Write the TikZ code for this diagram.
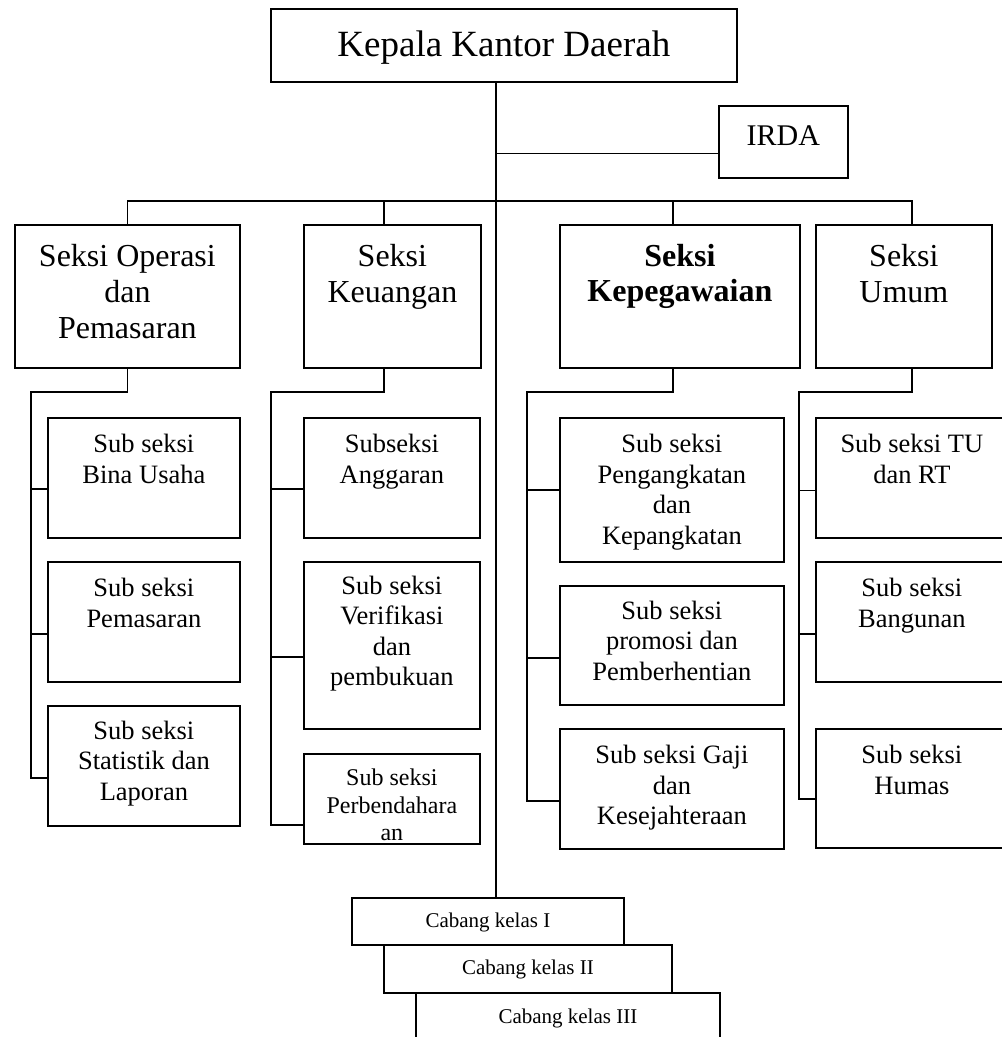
\documentclass[tikz,border=0pt]{standalone}
\usepackage{fontspec}
\setmainfont{Liberation Serif}
% box contents: width, height, space above the first line, text
\newcommand{\isi}[4]{\parbox[t][#2][t]{#1}{\centering\vspace*{#3}\strut #4}}

\begin{document}
\begin{tikzpicture}[x=1pt,y=-1pt,
	kotak/.style={draw, line width=1.8pt, inner sep=0pt, anchor=north west},
	judul/.style={kotak, font=\fontsize{37}{42}\selectfont},
	seksi/.style={kotak, font=\fontsize{32}{36}\selectfont},
	subseksi/.style={kotak, font=\fontsize{26.5}{30.5}\selectfont},
	cabang/.style={kotak, font=\fontsize{21}{24}\selectfont},
	garis/.style={line width=1.8pt}]
				\useasboundingbox (0,0) rectangle (1002,1037);
				\fill[white] (0,0) rectangle (1002,1037);
				\clip (0,0) rectangle (1002,1037);
				
				\node[judul] (kepala) at (270,8) {\isi{466pt}{73pt}{18.6pt}{Kepala Kantor Daerah}};
				\node[kotak, font=\fontsize{30}{34}\selectfont] (irda) at (718,105) {\isi{129pt}{72pt}{16.2pt}{IRDA}};
				
				\node[seksi] (operasi) at (14,224) {\isi{225pt}{143pt}{16.8pt}{Seksi Operasi\\dan\\Pemasaran}};
				\node[seksi] (keuangan) at (303,224) {\isi{177pt}{143pt}{16.8pt}{Seksi\\Keuangan}};
				\node[seksi, font=\fontsize{32}{35}\selectfont\bfseries] (pegawai) at (559,224) {\isi{240pt}{143pt}{16.8pt}{Seksi\\Kepegawaian}};
				\node[seksi] (umum) at (815,224) {\isi{176pt}{143pt}{16.8pt}{Seksi\\Umum}};
				
				\node[subseksi] (bina) at (47,417) {\isi{192pt}{120pt}{13.6pt}{Sub seksi\\Bina Usaha}};
				\node[subseksi] (pasar) at (47,561) {\isi{192pt}{120pt}{13.6pt}{Sub seksi\\Pemasaran}};
				\node[subseksi] (statistik) at (47,705) {\isi{192pt}{120pt}{12pt}{Sub seksi\\Statistik dan\\Laporan}};
				
				\node[subseksi] (anggaran) at (303,417) {\isi{176pt}{120pt}{13.6pt}{Subseksi\\Anggaran}};
				\node[subseksi] (verifikasi) at (303,561) {\isi{176pt}{167pt}{11pt}{Sub seksi\\Verifikasi\\dan\\pembukuan}};
				\node[subseksi, font=\fontsize{24}{27.5}\selectfont] (bendahara) at (303,753) {\isi{176pt}{90pt}{12.7pt}{Sub seksi\\Perbendahara\\an}};
				
				\node[subseksi] (angkat) at (559,417) {\isi{224pt}{144pt}{13.6pt}{Sub seksi\\Pengangkatan\\dan\\Kepangkatan}};
				\node[subseksi] (promosi) at (559,585) {\isi{224pt}{119pt}{12pt}{Sub seksi\\promosi dan\\Pemberhentian}};
				\node[subseksi] (gaji) at (559,728) {\isi{224pt}{120pt}{13.6pt}{Sub seksi Gaji\\dan\\Kesejahteraan}};
				
				\node[subseksi] (tu) at (815,417) {\isi{192pt}{120pt}{13.6pt}{Sub seksi TU\\dan RT}};
				\node[subseksi] (bangunan) at (815,561) {\isi{192pt}{120pt}{13.6pt}{Sub seksi\\Bangunan}};
				\node[subseksi] (humas) at (815,728) {\isi{192pt}{119pt}{13.6pt}{Sub seksi\\Humas}};
				
				\node[cabang] (cabI) at (351,897) {\isi{272pt}{47pt}{13pt}{Cabang kelas I}};
				\node[cabang] (cabII) at (383,944) {\isi{288pt}{48pt}{13pt}{Cabang kelas II}};
				\node[cabang] (cabIII) at (415,992) {\isi{304pt}{60pt}{14pt}{Cabang kelas III}};
				
				% garis komando
				\coordinate (spine) at ([xshift=-8pt]kepala.south);
				\coordinate (bar) at (495,201);
				\draw[garis] (spine) -- (spine |- cabI.north);
				\draw[garis] ([yshift=-11.5pt]irda.west) -| (spine);
				\draw[garis] (operasi.north) |- (bar) -| ([xshift=8pt]umum.north);
				\draw[garis] ([xshift=-8.5pt]keuangan.north) |- (bar);
				\draw[garis] ([xshift=-7pt]pegawai.north) |- (bar);
				
				\coordinate (railA) at (31,392);
				\coordinate (railB) at (271,392);
				\coordinate (railC) at (527,392);
				\coordinate (railD) at (799,392);
				
				\draw[garis] (operasi.south) |- (railA) |- ([yshift=-12pt]statistik.west);
				\draw[garis] ([yshift=-11pt]bina.west) -| (railA);
				\draw[garis] ([yshift=-12pt]pasar.west) -| (railA);
				
				\draw[garis] ([xshift=-8.5pt]keuangan.south) |- (railB) |- ([yshift=-26pt]bendahara.west);
				\draw[garis] ([yshift=-11pt]anggaran.west) -| (railB);
				\draw[garis] ([yshift=-11.5pt]verifikasi.west) -| (railB);
				
				\draw[garis] ([xshift=-7pt]pegawai.south) |- (railC) |- ([yshift=-12pt]gaji.west);
				\draw[garis] (angkat.west) -| (railC);
				\draw[garis] ([yshift=-12.5pt]promosi.west) -| (railC);
				
				\draw[garis] ([xshift=8pt]umum.south) |- (railD) |- ([yshift=-10.5pt]humas.west);
				\draw[garis] ([yshift=-12.5pt]tu.west) -| (railD);
				\draw[garis] ([yshift=-12pt]bangunan.west) -| (railD);
			\end{tikzpicture}
\end{document}
